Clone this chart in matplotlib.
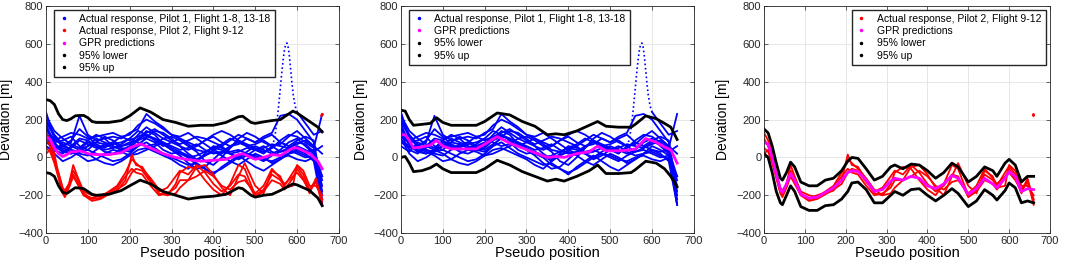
import numpy as np
import matplotlib
matplotlib.use('Agg')
import matplotlib.pyplot as plt
from matplotlib.lines import Line2D

plt.rcParams['font.family'] = ['Liberation Sans', 'DejaVu Sans']

# ---------------- data ----------------
# pilot 1 flights, sampled every 20 units of pseudo position
bx = [0, 20, 40, 60, 80, 100, 120, 140, 160, 180, 200, 220, 240, 260, 280, 300, 320,
      340, 360, 380, 400, 420, 440, 460, 480, 500, 520, 540, 560, 580, 600, 620, 640, 660]
nan = np.nan
b1 = [240, 100, 60, 80, 220, 120, 90, 100, 110, 100, 130, 150, 230, 190, 160, 120, 100, 80, 60, 90, 110, 80, 60, 70, 100, 80, 110, 130, 220, 230, 200, 140, 80, -250]
b2 = [180, 60, 30, 50, 90, 70, 50, 60, 70, 80, 100, 140, 120, 100, 80, 60, 40, 50, 70, 40, 20, 30, 60, 80, 60, 40, 50, 70, 60, 50, 70, 90, 60, -200]
b3 = [150, 80, 90, 110, 60, 40, 80, 110, 90, 60, 70, 120, 160, 130, 100, 80, 60, 20, -10, 10, 40, 60, 20, 0, 30, 60, 40, 20, 40, 80, 100, 60, 20, -150]
b4 = [120, 40, 20, 60, 100, 90, 60, 40, 50, 70, 100, 80, 60, 70, 100, 110, 90, 60, 30, -20, -40, 0, 50, 90, 70, 50, 30, 50, 80, 60, 40, 30, 40, -100]
b5 = [200, 120, 70, 40, 30, 60, 100, 80, 60, 40, 50, 90, 140, 120, 70, 40, 10, -30, -60, -50, -10, 30, 20, -10, 10, 40, 60, 30, 10, 20, 60, 40, 10, -250]
b6 = [100, 20, -20, 0, 30, 40, 20, 0, -20, -10, 20, 60, 80, 50, 20, 0, -20, -40, -30, -60, -80, -60, -30, 0, 20, 10, -10, -20, 0, 10, -10, -20, 0, -220]
b7 = [160, 90, 110, 130, 120, 100, 110, 120, 130, 110, 90, 110, 130, 150, 120, 90, 70, 90, 110, 100, 80, 60, 90, 120, 100, 80, 100, 120, 80, 60, 90, 110, 90, -180]
b8 = [80, 50, 60, 40, 20, 10, 40, 70, 80, 50, 40, 70, 100, 80, 40, 20, 30, 10, -20, 20, 60, 50, 30, 40, 20, 0, -20, 10, 30, 40, 20, 0, 10, -120]
b9 = [130, 70, 40, 20, 40, 80, 60, 30, 20, 40, 60, 100, 120, 90, 60, 80, 100, 70, 40, 30, 50, 70, 100, 80, 60, 70, 90, 60, 30, 50, 80, 70, 30, 60]
b10 = [60, 30, 80, 60, 40, 20, -10, -30, -40, -20, 10, 40, 50, 30, 10, -10, -40, -60, -20, 10, 30, 10, -20, -40, -10, 20, 0, -30, -10, 20, 40, 20, -20, -250]
b11 = [190, 110, 60, 90, 150, 110, 70, 50, 80, 110, 120, 170, 200, 180, 150, 120, 110, 130, 100, 70, 40, 20, 50, 100, 130, 110, 80, 60, 70, 110, 140, 100, 60, 20]
b12 = [220, 140, 100, 70, 50, 90, 120, 100, 60, 40, 30, 60, 110, 140, 130, 100, 60, 40, 60, 90, 120, 140, 120, 90, 60, 40, 30, 50, 90, 120, 110, 80, 50, 230]
b13 = [90, 60, 50, 30, 10, -20, -10, 20, 40, 30, 10, 20, 40, 60, 80, 50, 30, 0, -40, -60, -90, -50, -20, 10, -20, -50, -70, -40, -10, 20, 30, 10, -10, -100]
b14 = [110, 80, 30, 20, 40, 60, 80, 70, 50, 60, 80, 90, 110, 100, 70, 40, 20, 0, 10, 30, 50, 40, 20, 30, 50, 40, 20, 60, nan, nan, 240, 180, 120, 140]
blue_flights = [b1, b2, b3, b4, b5, b6, b7, b8, b9, b10, b11, b12, b13, b14]

# the fast excursion of flight b14 (drawn dotted)
spike_x = [540, 543, 546, 549, 552, 555, 558, 561, 564, 567, 570, 573, 576, 579, 582, 585, 588, 591, 594, 597, 600]
spike_y = [60, 75, 100, 140, 190, 250, 320, 390, 460, 520, 570, 600, 605, 580, 530, 460, 390, 330, 290, 260, 240]

# pilot 2 flights
rx = [0, 10, 20, 30, 40, 45, 55, 65, 75, 90, 110, 130, 150, 170, 190, 205, 215, 230, 250, 270, 290,
      310, 320, 340, 360, 380, 400, 420, 440, 460, 475, 500, 520, 540, 560, 570, 590, 600, 615, 630, 645, 660]
r1 = [130, 90, 20, -90, -170, -190, -140, -70, -110, -190, -220, -215, -190, -175, -120, 15, -40, -50, -120, -190, -200, -140, -80, -50, -60, -120, -170, -200, -140, -40, -60, -200, -170, -90, -120, -150, -80, -45, -90, -170, -120, -250]
r2 = [100, 60, -10, -100, -185, -200, -150, -90, -130, -200, -230, -220, -195, -170, -140, -80, -60, -70, -130, -180, -160, -100, -70, -90, -40, -80, -140, -180, -150, -90, -100, -210, -180, -120, -140, -170, -110, -60, -110, -190, -110, -230]
r3 = [50, 30, -30, -110, -190, -210, -160, -100, -140, -200, -215, -200, -185, -160, -100, -60, -80, -90, -150, -200, -190, -160, -120, -120, -100, -70, -100, -150, -170, -130, -120, -190, -150, -60, -110, -140, -100, -80, -120, -175, -130, -220]
r4 = [20, 40, -20, -80, -160, -175, -140, -40, -100, -180, -200, -210, -180, -150, -80, -10, -30, -60, -110, -170, -200, -190, -160, -120, -50, -40, -90, -160, -200, -100, -30, -150, -190, -70, -100, -160, -150, -40, -70, -150, -150, -200]
red_flights = [r1, r2, r3, r4]
red_out_x = [658, 659]
red_out_y = [224, 232]

# GPR mean and 95% bounds, all pilots (left panel)
p1_x = [0, 10, 20, 30, 40, 50, 60, 70, 80, 90, 100, 110, 120, 150, 180, 200, 225, 250, 280, 310, 340,
        370, 400, 430, 460, 470, 490, 500, 520, 540, 560, 590, 600, 630, 650, 660]
p1_gpr = [110, 95, 50, 20, 5, 15, 30, 30, 35, 30, 20, 17, 15, 15, 25, 50, 72, 50, 20, 0, -12,
          -20, -15, -10, 15, 20, 0, -10, 0, 15, 10, 50, 50, 20, -20, -60]
p1_up = [306, 300, 280, 230, 200, 195, 205, 220, 222, 222, 210, 190, 185, 185, 195, 220, 262, 240, 200, 185, 165,
         170, 170, 185, 215, 218, 185, 180, 188, 195, 200, 245, 235, 190, 160, 135]
p1_low = [-80, -85, -100, -150, -185, -190, -175, -160, -162, -165, -180, -195, -200, -195, -175, -150, -120, -140, -180, -200, -220,
          -210, -205, -195, -160, -165, -200, -210, -200, -195, -175, -140, -145, -175, -215, -255]

# pilot 1 only (middle panel)
p2_x = [0, 10, 20, 30, 50, 70, 85, 100, 120, 150, 180, 200, 230, 260, 290, 320, 350, 370, 390, 420,
        450, 470, 490, 520, 550, 560, 585, 610, 630, 645, 660]
p2_gpr = [120, 120, 90, 50, 55, 65, 90, 60, 45, 45, 45, 70, 110, 75, 50, 25, 0, 5, 0, 20,
          30, 60, 35, 35, 40, 45, 100, 80, 55, 40, -30]
p2_up = [250, 245, 200, 170, 175, 180, 210, 185, 170, 170, 170, 190, 235, 225, 190, 165, 120, 125, 120, 140,
         170, 190, 165, 160, 160, 175, 220, 205, 180, 160, 95]
p2_low = [0, 5, -30, -75, -70, -55, -35, -60, -80, -80, -80, -60, -15, -40, -75, -100, -125, -115, -125, -100,
          -70, -40, -85, -85, -80, -65, -20, -30, -60, -100, -155]

# pilot 2 only (right panel), same positions as rx
p3_gpr = [80, 70, 0, -90, -170, -185, -140, -85, -120, -195, -215, -210, -185, -160, -120, -80, -70, -75, -120, -180, -170,
          -125, -110, -120, -100, -110, -150, -165, -140, -95, -110, -195, -165, -110, -140, -160, -110, -75, -100, -180, -165, -170]
p3_up = [150, 130, 60, -30, -110, -120, -80, -25, -50, -130, -150, -150, -120, -110, -70, -20, 0, -5, -60, -120, -100,
         -50, -40, -60, -35, -40, -70, -110, -80, -30, -50, -130, -100, -50, -70, -100, -30, -10, -40, -130, -100, -100]
p3_low = [20, 0, -80, -180, -240, -250, -200, -150, -180, -260, -280, -280, -255, -250, -220, -180, -135, -130, -170, -240, -240,
          -200, -180, -200, -170, -165, -200, -230, -200, -165, -190, -260, -230, -170, -200, -225, -175, -135, -160, -240, -230, -240]

BLUE = '#0000ff'
RED = '#ff0000'
MAG = '#ff00ff'


def style_axes(ax, ylab_x):
    ax.set_xlim(0, 700)
    ax.set_ylim(-400, 800)
    ax.set_xticks(range(0, 701, 100))
    ax.set_yticks(range(-400, 801, 200))
    ax.grid(True, color='#e3e3e3', linewidth=0.6)
    ax.set_axisbelow(True)
    ax.tick_params(direction='in', top=True, right=True, labelsize=8, length=3,
                   width=0.5, colors='#262626', pad=2)
    for s in ax.spines.values():
        s.set_color('#262626')
        s.set_linewidth(0.6)
    ax.set_xlabel('Pseudo position', fontsize=10.5, labelpad=0)
    ax.set_ylabel('Deviation [m]', fontsize=10)
    ax.yaxis.set_label_coords(ylab_x, 0.5)


def dot(c):
    return Line2D([], [], color=c, marker='.', markersize=3, linestyle='none')


def draw_blue(ax):
    for f in blue_flights:
        ax.plot(bx, f, color=BLUE, linewidth=1.3)
    ax.plot(spike_x, spike_y, color=BLUE, linewidth=1.2, linestyle=(0, (1, 1.6)))


def draw_red(ax):
    for f in red_flights:
        ax.plot(rx, f, color=RED, linewidth=1.3)
    ax.plot(red_out_x, red_out_y, '.', color=RED, markersize=2)


leg_kw = dict(fontsize=7.5, fancybox=False, edgecolor='#262626', framealpha=1,
              handlelength=1.0, handletextpad=1.0, borderpad=0.4, labelspacing=0.22,
              borderaxespad=0)

fig = plt.figure(figsize=(10.65, 2.67), dpi=100)
ax1 = fig.add_axes([0.0432, 0.127, 0.275, 0.850])
ax2 = fig.add_axes([0.3765, 0.127, 0.275, 0.850])
ax3 = fig.add_axes([0.7174, 0.127, 0.2685, 0.850])

# left panel: both pilots
draw_blue(ax1)
draw_red(ax1)
ax1.plot(p1_x, p1_gpr, color=MAG, linewidth=2)
ax1.plot(p1_x, p1_low, color='k', linewidth=2)
ax1.plot(p1_x, p1_up, color='k', linewidth=2)
ax1.legend([dot(BLUE), dot(RED), dot(MAG), dot('k'), dot('k')],
           ['Actual response, Pilot 1, Flight 1-8, 13-18', 'Actual response, Pilot 2, Flight 9-12',
            'GPR predictions', '95% lower', '95% up'],
           loc='upper left', bbox_to_anchor=(0.028, 0.985), **leg_kw)

# middle panel: pilot 1
draw_blue(ax2)
ax2.plot(p2_x, p2_gpr, color=MAG, linewidth=2)
ax2.plot(p2_x, p2_low, color='k', linewidth=2)
ax2.plot(p2_x, p2_up, color='k', linewidth=2)
ax2.legend([dot(BLUE), dot(MAG), dot('k'), dot('k')],
           ['Actual response, Pilot 1, Flight 1-8, 13-18', 'GPR predictions', '95% lower', '95% up'],
           loc='upper left', bbox_to_anchor=(0.028, 0.985), **leg_kw)

# right panel: pilot 2
draw_red(ax3)
ax3.plot(rx, p3_gpr, color=MAG, linewidth=2)
ax3.plot(rx, p3_low, color='k', linewidth=2)
ax3.plot(rx, p3_up, color='k', linewidth=2)
ax3.legend([dot(RED), dot(MAG), dot('k'), dot('k')],
           ['Actual response, Pilot 2, Flight 9-12', 'GPR predictions', '95% lower', '95% up'],
           loc='upper right', bbox_to_anchor=(0.985, 0.985), **leg_kw)

style_axes(ax1, -0.112)
style_axes(ax2, -0.112)
style_axes(ax3, -0.12)

fig.savefig('out.png', dpi=100)
